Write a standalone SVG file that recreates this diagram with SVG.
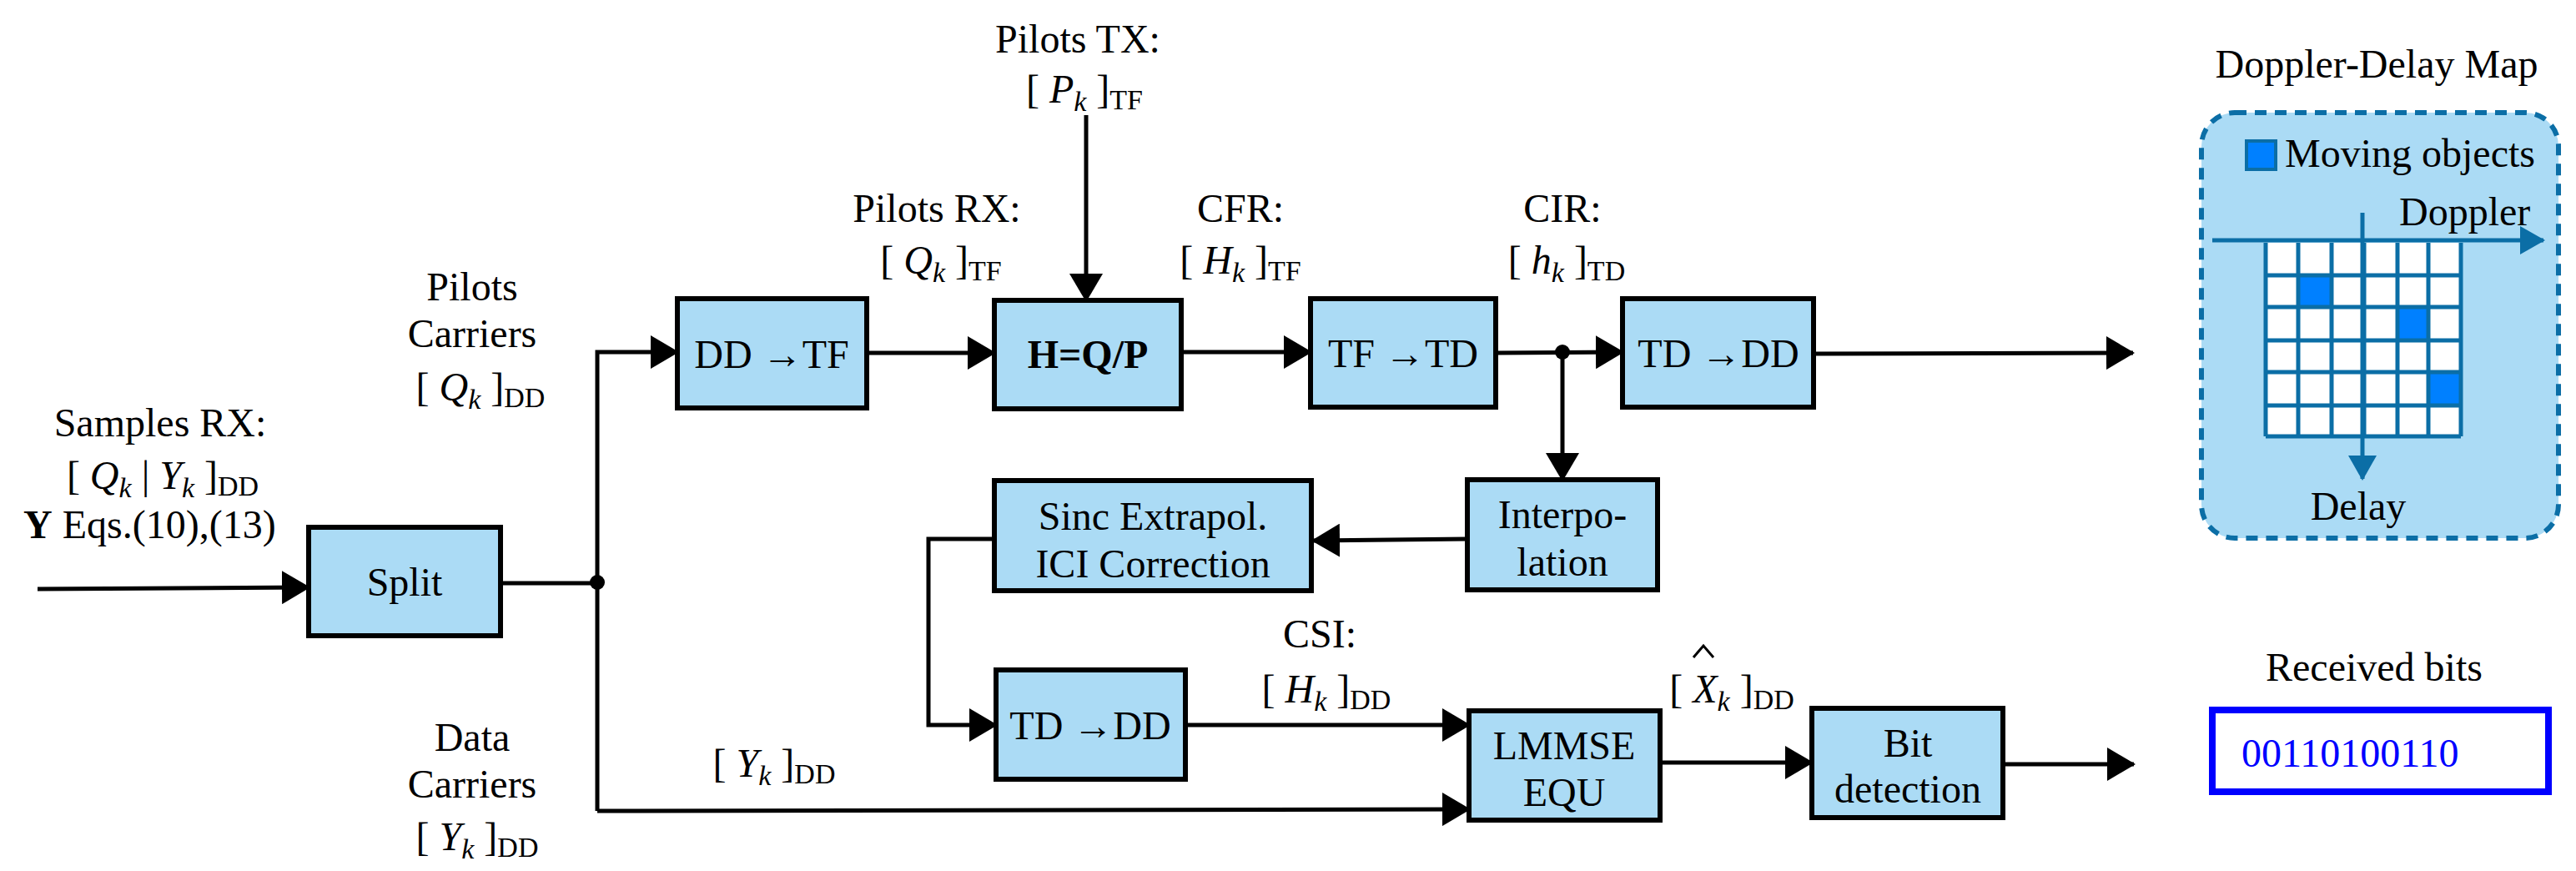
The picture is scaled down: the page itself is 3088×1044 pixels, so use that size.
<svg xmlns="http://www.w3.org/2000/svg" width="3088" height="1044" viewBox="0 0 3088 1044">
<defs>
<marker id="ar" markerUnits="userSpaceOnUse" markerWidth="34" markerHeight="40" refX="32" refY="20" orient="auto"><path d="M0,0 L34,20 L0,40 Z" fill="#000"/></marker>
<marker id="ab" markerUnits="userSpaceOnUse" markerWidth="30" markerHeight="34" refX="28" refY="17" orient="auto"><path d="M0,0 L30,17 L0,34 Z" fill="#0b6ea6"/></marker>
</defs>
<style>
text{font-family:"Liberation Serif","Times New Roman",serif;font-size:48px;fill:#000}
.c{text-anchor:middle}
.i{font-style:italic}
.s{font-size:34px}
.box rect{fill:#abdbf5;stroke:#000;stroke-width:6}
.ln{fill:none;stroke:#000;stroke-width:5}
.g{stroke:#0b6ea6;stroke-width:5;fill:none}
</style>
<rect width="3088" height="1044" fill="#fff"/>
<g id="connectors">
<path class="ln" d="M45,706 L370,704" marker-end="url(#ar)"/>
<path class="ln" d="M603,699 L716,699"/>
<path class="ln" d="M716,972 L716,422 L812,422" marker-end="url(#ar)"/>
<path class="ln" d="M1039,423 L1192,423" marker-end="url(#ar)"/>
<path class="ln" d="M1302,138 L1302,360" marker-end="url(#ar)"/>
<path class="ln" d="M1416,422 L1571,422" marker-end="url(#ar)"/>
<path class="ln" d="M1793,423 L1945,422" marker-end="url(#ar)"/>
<path class="ln" d="M2174,424 L2557,423" marker-end="url(#ar)"/>
<path class="ln" d="M1873,422 L1873,575" marker-end="url(#ar)"/>
<path class="ln" d="M1759,646 L1574,648" marker-end="url(#ar)"/>
<path class="ln" d="M1192,646 L1113,646 L1113,869 L1194,869" marker-end="url(#ar)"/>
<path class="ln" d="M1421,869 L1761,869" marker-end="url(#ar)"/>
<path class="ln" d="M716,972 L1761,970" marker-end="url(#ar)"/>
<path class="ln" d="M1990,914 L2172,914" marker-end="url(#ar)"/>
<path class="ln" d="M2401,916 L2558,916" marker-end="url(#ar)"/>
<circle cx="716" cy="698" r="9" fill="#000"/>
<circle cx="1873" cy="422" r="9" fill="#000"/>
</g>
<g id="split" class="box"><rect x="370" y="632" width="230" height="130"/><text class="c" x="485" y="714">Split</text></g>
<g id="ddtf" class="box"><rect x="812" y="358" width="227" height="131"/><text class="c" x="925" y="441">DD →TF</text></g>
<g id="hqp" class="box"><rect x="1192" y="360" width="224" height="130"/><text class="c" x="1304" y="441" font-weight="bold">H=Q/P</text></g>
<g id="tftd" class="box"><rect x="1571" y="358" width="222" height="130"/><text class="c" x="1682" y="440">TF →TD</text></g>
<g id="tddd1" class="box"><rect x="1945" y="358" width="229" height="130"/><text class="c" x="2060" y="440">TD →DD</text></g>
<g id="interp" class="box"><rect x="1759" y="575" width="228" height="132"/><text class="c" x="1873" y="633">Interpo-</text><text class="c" x="1873" y="690">lation</text></g>
<g id="sinc" class="box"><rect x="1192" y="576" width="380" height="132"/><text class="c" x="1382" y="635">Sinc Extrapol.</text><text class="c" x="1382" y="692">ICI Correction</text></g>
<g id="tddd2" class="box"><rect x="1194" y="803" width="227" height="131"/><text class="c" x="1307" y="886">TD →DD</text></g>
<g id="lmmse" class="box"><rect x="1761" y="852" width="229" height="131"/><text class="c" x="1875" y="910">LMMSE</text><text class="c" x="1875" y="966">EQU</text></g>
<g id="bitdet" class="box"><rect x="2172" y="849" width="229" height="131"/><text class="c" x="2287" y="907">Bit</text><text class="c" x="2287" y="962">detection</text></g>
<g id="labels">
<text class="c" x="192" y="523">Samples RX:</text>
<text class="c" x="195" y="586">[ <tspan class="i">Q</tspan><tspan class="i s" dy="10">k</tspan><tspan dy="-10"> | </tspan><tspan class="i">Y</tspan><tspan class="i s" dy="10">k</tspan><tspan dy="-10"> ]</tspan><tspan class="s" dy="8">DD</tspan></text>
<text x="28" y="645"><tspan font-weight="bold">Y</tspan>  Eqs.(10),(13)</text>
<text class="c" x="566" y="360">Pilots</text>
<text class="c" x="566" y="416">Carriers</text>
<text class="c" x="576" y="480">[ <tspan class="i">Q</tspan><tspan class="i s" dy="10">k</tspan><tspan dy="-10"> ]</tspan><tspan class="s" dy="8">DD</tspan></text>
<text class="c" x="566" y="900">Data</text>
<text class="c" x="566" y="956">Carriers</text>
<text class="c" x="572" y="1019">[ <tspan class="i">Y</tspan><tspan class="i s" dy="10">k</tspan><tspan dy="-10"> ]</tspan><tspan class="s" dy="8">DD</tspan></text>
<text class="c" x="928" y="931">[ <tspan class="i">Y</tspan><tspan class="i s" dy="10">k</tspan><tspan dy="-10"> ]</tspan><tspan class="s" dy="8">DD</tspan></text>
<text class="c" x="1292" y="63">Pilots TX:</text>
<text class="c" x="1300" y="123">[ <tspan class="i">P</tspan><tspan class="i s" dy="10">k</tspan><tspan dy="-10"> ]</tspan><tspan class="s" dy="8">TF</tspan></text>
<text class="c" x="1123" y="266">Pilots RX:</text>
<text class="c" x="1128" y="328">[ <tspan class="i">Q</tspan><tspan class="i s" dy="10">k</tspan><tspan dy="-10"> ]</tspan><tspan class="s" dy="8">TF</tspan></text>
<text class="c" x="1487" y="266">CFR:</text>
<text class="c" x="1487" y="328">[ <tspan class="i">H</tspan><tspan class="i s" dy="10">k</tspan><tspan dy="-10"> ]</tspan><tspan class="s" dy="8">TF</tspan></text>
<text class="c" x="1873" y="266">CIR:</text>
<text class="c" x="1878" y="328">[ <tspan class="i">h</tspan><tspan class="i s" dy="10">k</tspan><tspan dy="-10"> ]</tspan><tspan class="s" dy="8">TD</tspan></text>
<text class="c" x="1582" y="776">CSI:</text>
<text class="c" x="1590" y="842">[ <tspan class="i">H</tspan><tspan class="i s" dy="10">k</tspan><tspan dy="-10"> ]</tspan><tspan class="s" dy="8">DD</tspan></text>
<text class="c" x="2076" y="842">[ <tspan class="i">X</tspan><tspan class="i s" dy="10">k</tspan><tspan dy="-10"> ]</tspan><tspan class="s" dy="8">DD</tspan></text>
<path d="M2030,788 L2042,774 L2054,788" fill="none" stroke="#000" stroke-width="3"/>
</g>
<g id="ddmap">
<text class="c" x="2849" y="93">Doppler-Delay Map</text>
<rect x="2639" y="135" width="428" height="510" rx="40" fill="#abdbf5" stroke="#0b6ea6" stroke-width="6" stroke-dasharray="14,10"/>
<rect x="2693" y="169" width="35" height="34" fill="#0080ff" stroke="#0b6ea6" stroke-width="4"/>
<text x="2739" y="200" font-size="42">Moving objects</text>
<rect x="2716" y="291" width="234" height="232" fill="#fff"/>
<rect x="2755" y="330" width="40" height="38" fill="#0080ff"/>
<rect x="2874" y="368" width="37" height="40" fill="#0080ff"/>
<rect x="2911" y="446" width="39" height="40" fill="#0080ff"/>
<path class="g" d="M2716,291 V523 M2755,291 V523 M2795,291 V523 M2834,291 V523 M2874,291 V523 M2911,291 V523 M2950,291 V523 M2716,330 H2950 M2716,368 H2950 M2716,408 H2950 M2716,446 H2950 M2716,486 H2950 M2716,523 H2950"/>
<path class="g" d="M2652,288 L3049,288" marker-end="url(#ab)"/>
<path class="g" d="M2832,255 L2832,574" marker-end="url(#ab)"/>
<text x="2876" y="270" font-size="44">Doppler</text>
<text class="c" x="2827" y="623" font-size="44">Delay</text>
</g>
<g id="bits">
<text class="c" x="2846" y="816">Received bits</text>
<rect x="2652" y="851" width="403" height="98" fill="#fff" stroke="#0000ff" stroke-width="8"/>
<text x="2687" y="919" fill="#0000ff" style="fill:#0000ff">00110100110</text>
</g>
</svg>
